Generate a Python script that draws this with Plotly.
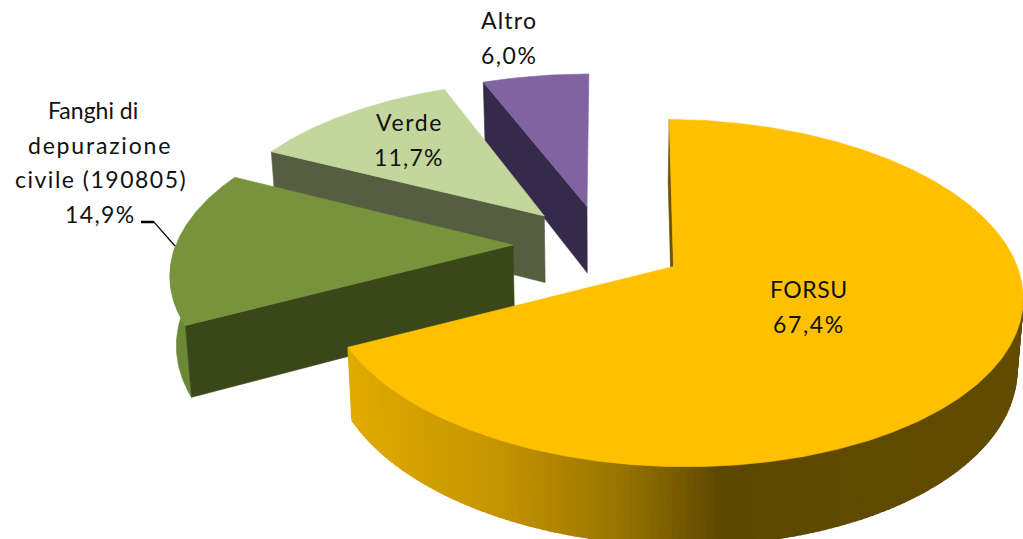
import math
import plotly.graph_objects as go

categories = ["FORSU", "Fanghi di depurazione civile (190805)", "Verde", "Altro"]
values = [67.4, 14.9, 11.7, 6.0]
top_colors = ["#FFC000", "#77933C", "#C3D69B", "#8064A2"]
cut_colors = ["#6B5300", "#3A4819", "#565E42", "#352A4A"]
rim_colors = ["#C09000", "#6C8836", "#9AAB7A", "#66508A"]
label_lines = [["FORSU"], ["Fanghi di", "depurazione", "civile (190805)"], ["Verde"], ["Altro"]]
label_pos = [(809, 289), (93, 110), (409, 122), (509, 20)]
label_step = 34.5
track = {"depurazione": 1.8, "civile (190805)": 1.5, "Verde": 1.6, "11,7%": 1.2, "14,9%": 1.4,
         "67,4%": 1.6, "6,0%": 1.5, "FORSU": 0.5, "Altro": 1.2}
nudge = {"depurazione": 7, "civile (190805)": 8, "14,9%": 7}

CX, CY, A, B, K = 602, 244.6, 337, 163, 0.15
PULL, START, DEPTH, ZF = 0.246, 1.0, 68, 0.985
slice_turn = [0, -1, -1, -1]
slice_shift = [0, -6, -3, 0]
shift_now = 0


def project(x, y, bottom=False):
    s = 1 / (1 + K * y)
    px, py = CX + A * x * s, CY - B * y * s
    if bottom:
        px = CX + (px - CX) * ZF
        py = CY + (py - CY) * ZF + DEPTH * s
    return px + shift_now, py


def rim_point(t, offset, bottom=False):
    r = math.radians(t)
    return project(offset[0] + math.sin(r), offset[1] + math.cos(r), bottom)


def arc(t0, t1, offset, bottom=False):
    n = max(2, int(abs(t1 - t0)) * 2)
    return [rim_point(t0 + (t1 - t0) * i / n, offset, bottom) for i in range(n + 1)]


def poly(fig, pts, color, name, width=0.6):
    fig.add_trace(go.Scatter(
        x=[p[0] for p in pts] + [pts[0][0]], y=[p[1] for p in pts] + [pts[0][1]],
        mode="lines", fill="toself", fillcolor=color, line=dict(color=color, width=width),
        name=name, hoverinfo="name", showlegend=False))


def lerp_color(x):
    stops = [(340, (226, 172, 0)), (500, (196, 148, 0)), (620, (152, 116, 0)),
             (720, (94, 72, 0)), (1030, (98, 76, 0))]
    for (x0, c0), (x1, c1) in zip(stops, stops[1:]):
        if x <= x1:
            f = max(0, (x - x0) / (x1 - x0))
            return "rgb(%d,%d,%d)" % tuple(round(a + (b - a) * f) for a, b in zip(c0, c1))
    return "rgb(98,76,0)"


# slice angles derive from the values
spans, t = [], START
for v, turn in zip(values, slice_turn):
    spans.append((t + turn, t + turn + v * 3.6))
    t += v * 3.6

fig = go.Figure()
for i in [3, 2, 1, 0]:
    t0, t1 = spans[i]
    shift_now = slice_shift[i]
    mid = math.radians((t0 + t1) / 2)
    off = (PULL * math.sin(mid), PULL * math.cos(mid))
    name = categories[i]
    apex_t, apex_b = project(*off), project(*off, True)
    if i == 0:
        # thin inner wall along the first radius
        poly(fig, [apex_t, rim_point(t0, off), rim_point(t0, off, True), apex_b], cut_colors[0], name)
        # side rim drawn as short shaded segments
        step = 1.0
        a = 100.0
        while a < t1:
            b = min(a + step, t1)
            p = [rim_point(a, off), rim_point(b, off), rim_point(b, off, True), rim_point(a, off, True)]
            poly(fig, p, lerp_color((p[0][0] + p[1][0]) / 2), name, width=1.5)
            a = b
    elif i == 1:
        poly(fig, arc(t0, 270, off) + arc(270, t0, off, True), rim_colors[1], name)
        poly(fig, [apex_t, rim_point(t0, off), rim_point(t0, off, True), apex_b], cut_colors[1], name)
    else:
        poly(fig, [apex_t, rim_point(t0, off), rim_point(t0, off, True), apex_b], cut_colors[i], name)
    poly(fig, [apex_t] + arc(t0, t1, off), top_colors[i], name)

fig.add_trace(go.Scatter(x=[141, 154, 175], y=[222, 222, 246], mode="lines",
                         line=dict(color="black", width=1.2), hoverinfo="skip", showlegend=False))
fig.add_trace(go.Scatter(x=[141, 154], y=[222, 222], mode="lines",
                         line=dict(color="black", width=2.5), hoverinfo="skip", showlegend=False))

for lines, (lx, ly), v in zip(label_lines, label_pos, values):
    texts = lines + [f"{v:.1f}%".replace(".", ",")]
    for j, s in enumerate(texts):
        y = ly + j * label_step
        sp = track.get(s, 0)
        fig.add_annotation(x=lx + nudge.get(s, 0), y=y, text=f'<span style="letter-spacing:{sp}px">{s}</span>',
                           showarrow=False, xanchor="center", yanchor="middle",
                           font=dict(family="Lato, Carlito, sans-serif", size=23, color="#111111"))

fig.update_layout(
    width=1023, height=539, margin=dict(l=0, r=0, t=0, b=0),
    paper_bgcolor="white", plot_bgcolor="white", showlegend=False,
    xaxis=dict(range=[0, 1023], visible=False, fixedrange=True),
    yaxis=dict(range=[539, 0], visible=False, fixedrange=True),
)
fig.write_html("out.html", config={"displayModeBar": False},
               post_script="document.body.style.margin='0';document.body.style.overflow='hidden';")
